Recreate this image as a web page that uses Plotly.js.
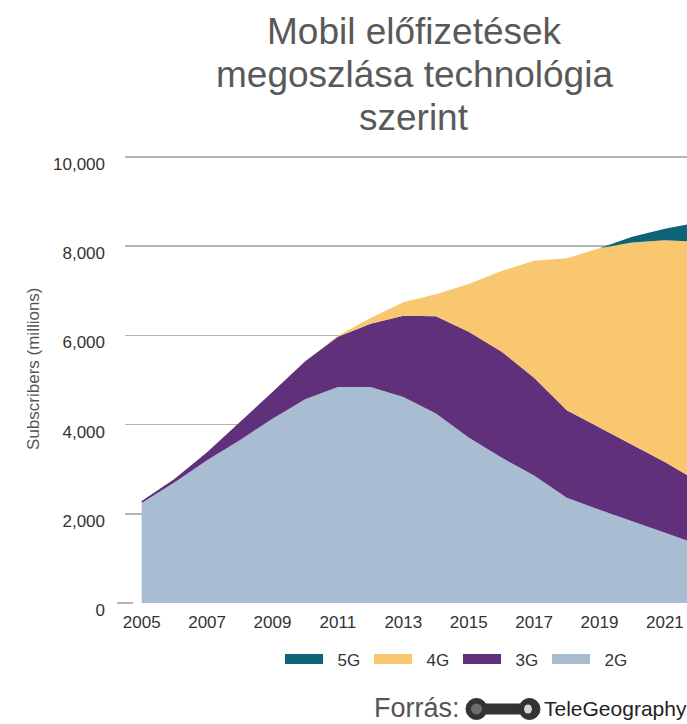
<!DOCTYPE html>
<html>
<head>
<meta charset="utf-8">
<script src="https://cdn.plot.ly/plotly-3.0.1.min.js"></script>
<style>
html,body{margin:0;padding:0;background:#fff;}
#chart{width:687px;height:724px;}
</style>
</head>
<body>
<div id="chart"></div>
<script>
// Data (millions of subscribers)
const years = [2005,2006,2007,2008,2009,2010,2011,2012,2013,2014,2015,2016,2017,2018,2019,2020,2021,2022];
const g2 = [2240,2700,3200,3650,4130,4570,4840,4840,4620,4250,3710,3260,2860,2360,2090,1840,1590,1320];
const g3 = [45,80,180,400,600,850,1130,1420,1820,2180,2370,2380,2190,1960,1840,1710,1570,1410];
const g4 = [0,0,0,0,0,0,20,130,300,490,1070,1800,2620,3410,4020,4530,4970,5370];
const g5 = [0,0,0,0,0,0,0,0,0,0,0,0,0,0,0,130,260,430];
const seriesNames = ["2G","3G","4G","5G"];
const yTickVals = [0,2000,4000,6000,8000,10000];
const titleLines = ["Mobil előfizetések","megoszlása technológia","szerint"];
const yTitle = "Subscribers (millions)";
const sourceLabel = "Forrás:";
const sourceName = "TeleGeography";

const colors = {"2G":"#a8bdd1","3G":"#61307b","4G":"#f9c76f","5G":"#0d6476"};
const values = [g2,g3,g4,g5];

// pixel helpers for layout placement
const yMax = 10200;
const pxPerUnit = 445.4 / 10000;
const H = yMax * pxPerUnit;            // plot height
const B = 602.7;                        // pixel row of y = 0
const T = B - H;                        // top of plot area
const L = 125, W = 562;
const px = x => (x - L) / W;
const py = y => (B - y) / H;

// stacked areas (not shown in legend)
const traces = seriesNames.map((n,i) => ({
  type: "scatter",
  mode: "lines",
  name: n,
  x: years,
  y: values[i],
  stackgroup: "one",
  line: {width: 0, color: colors[n]},
  fillcolor: colors[n],
  showlegend: false,
  legendgroup: n,
  hoverinfo: "skip"
}));
// legend entries with thick swatches
const NB = "\u00a0\u00a0";
seriesNames.forEach(n => traces.push({
  type: "scatter", mode: "lines", name: NB + n,
  x: [null], y: [null], legendgroup: n,
  line: {width: 10, color: colors[n]},
  showlegend: true, hoverinfo: "skip"
}));

const font = "Liberation Sans, Arial, Helvetica, sans-serif";
const annotations = [];
const titleY = [32, 75, 118];
titleLines.forEach((t,i) => annotations.push({
  text: t, xref: "paper", yref: "paper", x: px(414), y: py(titleY[i]),
  xanchor: "center", yanchor: "middle", showarrow: false,
  font: {family: font, size: 37, color: "#595959"}
}));
annotations.push({
  text: yTitle, xref: "paper", yref: "paper", x: px(34), y: py(369),
  xanchor: "center", yanchor: "middle", textangle: -90, showarrow: false,
  font: {family: font, size: 17, color: "#555555"}
});
annotations.push({
  text: sourceLabel, xref: "paper", yref: "paper", x: px(373), y: py(708),
  xanchor: "left", yanchor: "middle", showarrow: false, borderpad: 0,
  font: {family: font, size: 27, color: "#555555"}
});
annotations.push({
  text: sourceName, xref: "paper", yref: "paper", x: px(543), y: py(708),
  xanchor: "left", yanchor: "middle", showarrow: false, borderpad: 0,
  font: {family: font, size: 21, color: "#222222"}
});

const shapes = [
  // zero-line stub left of the axis
  {type:"line", xref:"paper", yref:"paper", x0:px(117), x1:px(133), y0:0, y1:0, line:{color:"#9a9a9a", width:1.5}},
  // TeleGeography logo
  {type:"circle", xref:"paper", yref:"paper", x0:px(466), x1:px(487), y0:py(719), y1:py(698), fillcolor:"#333333", line:{color:"#333333", width:1}},
  {type:"circle", xref:"paper", yref:"paper", x0:px(471), x1:px(482), y0:py(714), y1:py(703), fillcolor:"#6e6e6e", line:{width:0}},
  {type:"rect", xref:"paper", yref:"paper", x0:px(485), x1:px(520), y0:py(714), y1:py(703), fillcolor:"#333333", line:{width:0}},
  {type:"circle", xref:"paper", yref:"paper", x0:px(519), x1:px(540), y0:py(719), y1:py(698), fillcolor:"#333333", line:{color:"#333333", width:1}},
  {type:"circle", xref:"paper", yref:"paper", x0:px(524), x1:px(532), y0:py(713), y1:py(704), fillcolor:"#d5d5d5", line:{width:0}}
];

const layout = {
  width: 687, height: 724,
  margin: {l: L, r: 687 - L - W, t: T, b: 724 - B, pad: 0},
  paper_bgcolor: "#ffffff", plot_bgcolor: "#ffffff",
  font: {family: font, size: 17, color: "#333333"},
  showlegend: true,
  legend: {
    orientation: "h", traceorder: "reversed",
    x: px(280), xanchor: "left", y: py(659), yanchor: "middle",
    font: {family: font, size: 17, color: "#333333"},
    itemwidth: 38, entrywidth: 36, bgcolor: "rgba(0,0,0,0)"
  },
  xaxis: {
    range: [2004.49, 2021.676], tick0: 2005, dtick: 2,
    showgrid: false, zeroline: false, showline: false, ticks: "",
    tickfont: {family: font, size: 17, color: "#333333"},
    ticklabelstandoff: 7, fixedrange: true
  },
  yaxis: {
    range: [0, yMax], tickvals: yTickVals,
    tickformat: ",d", showgrid: true, gridcolor: "#b4b4b4", gridwidth: 1.5,
    zeroline: false, showline: false, ticks: "",
    tickfont: {family: font, size: 17, color: "#333333"},
    ticklabelstandoff: 19, ticklabelshift: 7, fixedrange: true
  },
  annotations: annotations,
  shapes: shapes
};

Plotly.newPlot("chart", traces, layout, {staticPlot: true, displayModeBar: false});
</script>
</body>
</html>
